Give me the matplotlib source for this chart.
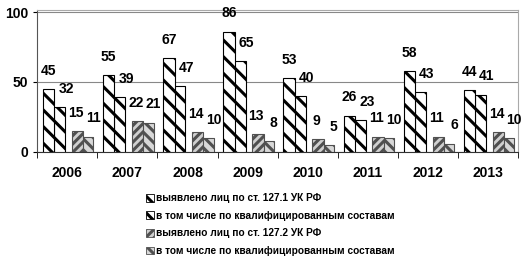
import numpy as np
import matplotlib
matplotlib.use("Agg")
import matplotlib.pyplot as plt
from matplotlib.patches import Patch

# data
years = ["2006", "2007", "2008", "2009", "2010", "2011", "2012", "2013"]
s1271 = [45, 55, 67, 86, 53, 26, 58, 44]
s1271_q = [32, 39, 47, 65, 40, 23, 43, 41]
s1272 = [15, 22, 14, 13, 9, 11, 11, 14]
s1272_q = [11, 21, 10, 8, 5, 10, 6, 10]
labels = ["выявлено лиц по ст. 127.1 УК РФ",
          "в том числе по квалифицированным составам",
          "выявлено лиц по ст. 127.2 УК РФ",
          "в том числе по квалифицированным составам"]

plt.rcParams['font.family'] = ['Liberation Sans', 'DejaVu Sans']
plt.rcParams['hatch.linewidth'] = 2.2

fig = plt.figure(figsize=(5.24, 2.61), dpi=100)
ax = fig.add_axes([0.071, 0.418, 0.918, 0.544])

x = np.arange(len(years))
w = 0.19
offs = [-0.31, -0.13, 0.17, 0.34]
label_dx = [0.0, 0.11, -0.03, 0.09]
series = [s1271, s1271_q, s1272, s1272_q]
faces = ["white", "white", "#d0d0d0", "#d8d8d8"]
edges = ["black", "black", "#505050", "#505050"]
hatches = ["\\\\", "\\\\", "////", "\\\\\\"]

for i, (vals, off) in enumerate(zip(series, offs)):
    ax.bar(x + off, vals, w, color=faces[i], edgecolor=edges[i],
           hatch=hatches[i], linewidth=0.8, zorder=3 + (i % 2 == 0))
    for xi, v in zip(x + off, vals):
        ax.text(xi + label_dx[i], v + 8, str(v), ha="center", va="bottom",
                fontsize=10, fontweight="bold", zorder=6,
                family=["Liberation Sans Narrow", "Liberation Sans"])

ax.set_xlim(-0.5, len(years) - 0.5)
ax.set_ylim(0, 101.5)
ax.set_yticks([0, 50, 100])
ax.set_xticks(x)
ax.set_xticklabels(years, fontsize=10, fontweight="bold")
for t in ax.get_yticklabels():
    t.set_fontweight("bold")
    t.set_fontsize(10)
ax.tick_params(axis="x", length=0, pad=10)
ax.tick_params(axis="y", length=3)
ax.set_xticks(np.arange(len(years) + 1) - 0.5, minor=True)
ax.tick_params(axis="x", which="minor", length=4, direction="out")
ax.grid(axis="y", color="#888888", linewidth=0.8, zorder=0)
for s in ["top", "right"]:
    ax.spines[s].set_color("#aaaaaa")
ax.spines["left"].set_color("#555555")
ax.spines["bottom"].set_color("#333333")

handles = [Patch(facecolor=faces[i], edgecolor=edges[i], hatch=hatches[i],
                 linewidth=0.6) for i in range(4)]
fig.legend(handles, labels, loc="upper left", bbox_to_anchor=(0.27, 0.275),
           frameon=False, prop={"weight": "bold", "size": 7.3},
           handlelength=0.8, handleheight=0.8, handletextpad=0.2,
           labelspacing=0.75, borderaxespad=0)

plt.savefig("out.png", dpi=100)
